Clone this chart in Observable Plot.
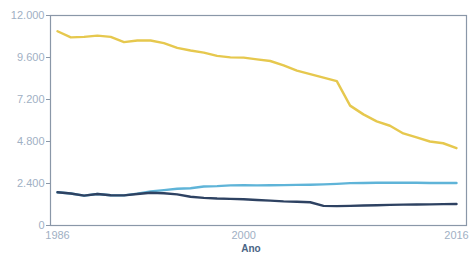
<!DOCTYPE html>
<html>
<head>
<meta charset="utf-8">
<script src="https://cdn.jsdelivr.net/npm/d3@7"></script>
<script src="https://cdn.jsdelivr.net/npm/@observablehq/plot@0.6"></script>
<style>
  html, body { margin: 0; padding: 0; background: #ffffff; }
  #chart { width: 474px; height: 257px; }
</style>
</head>
<body>
<div id="chart"></div>
<script>
const years = d3.range(1986, 2017);
const seriesNames = ["Amarelo", "Azul claro", "Azul escuro"];
const amarelo = [11100, 10750, 10780, 10850, 10780, 10480, 10570, 10570, 10420, 10150,
  10000, 9880, 9690, 9610, 9590, 9490, 9400, 9150, 8850, 8650,
  8450, 8250, 6850, 6350, 5950, 5700, 5260, 5030, 4800, 4700, 4420];
const azulClaro = [1900, 1830, 1710, 1800, 1730, 1720, 1820, 1950, 2020, 2100,
  2130, 2230, 2250, 2290, 2300, 2290, 2300, 2310, 2320, 2330,
  2350, 2380, 2420, 2430, 2440, 2440, 2440, 2440, 2430, 2430, 2430];
const azulEscuro = [1900, 1830, 1710, 1800, 1730, 1720, 1800, 1870, 1840, 1780,
  1640, 1580, 1540, 1520, 1500, 1460, 1420, 1380, 1360, 1330,
  1120, 1110, 1120, 1140, 1160, 1180, 1190, 1200, 1210, 1220, 1230];
const yTicks = [0, 2400, 4800, 7200, 9600, 12000];
const xTicks = [1986, 2000, 2016];
const colors = ["#e6c84e", "#5fb4d8", "#2e4262"];

const allValues = [amarelo, azulClaro, azulEscuro];
const data = [];
seriesNames.forEach((s, i) => {
  years.forEach((y, j) => data.push({ano: y, valor: allValues[i][j], serie: s}));
});

const fmt = d3.formatLocale({decimal: ",", thousands: ".", grouping: [3], currency: ["R$", ""]}).format(",d");

const chart = Plot.plot({
  width: 474,
  height: 257,
  marginLeft: 50,
  marginRight: 8,
  marginTop: 15,
  marginBottom: 32,
  style: {fontFamily: "Liberation Sans, Arial, sans-serif", fontSize: "11px", color: "#9fb0c4", background: "#ffffff"},
  x: {domain: [1986, 2016], insetLeft: 7, insetRight: 10},
  y: {domain: [0, 12000]},
  color: {domain: seriesNames, range: colors},
  marks: [
    Plot.frame({stroke: "#8a97a8", strokeWidth: 1.2}),
    Plot.axisY({ticks: yTicks, tickFormat: fmt, tickSize: 4, tickPadding: 2, label: null, stroke: "#8a97a8"}),
    Plot.axisX({ticks: xTicks, tickFormat: d => String(d), tickSize: 0, tickPadding: 6, label: null}),
    Plot.lineY(data, {x: "ano", y: "valor", stroke: "serie", z: "serie", strokeWidth: 2.4, curve: "linear"})
  ]
});

const wrap = document.createElement("div");
wrap.style.position = "relative";
wrap.appendChild(chart);
const lab = document.createElement("div");
lab.textContent = "Ano";
lab.style.cssText = "position:absolute;left:0;width:474px;top:243px;padding-left:28px;box-sizing:border-box;text-align:center;font:bold 10px 'Liberation Sans', Arial, sans-serif;color:#4a6585;";
wrap.appendChild(lab);
document.getElementById("chart").appendChild(wrap);
</script>
</body>
</html>
